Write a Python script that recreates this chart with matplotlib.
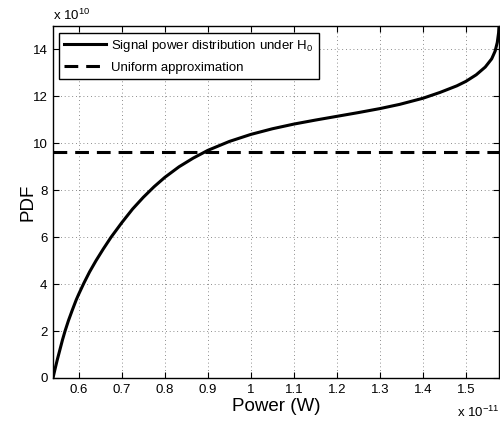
import numpy as np
import matplotlib
matplotlib.use("Agg")
import matplotlib.pyplot as plt
from matplotlib.ticker import FuncFormatter

plt.rcParams["font.family"] = ["Liberation Sans", "DejaVu Sans"]
plt.rcParams["mathtext.fontset"] = "custom"
plt.rcParams["mathtext.rm"] = "Liberation Sans"
plt.rcParams["mathtext.it"] = "Liberation Sans"

# power in units of 1e-11 W, pdf in units of 1e10
power = [0.540, 0.545, 0.550, 0.556, 0.562, 0.568, 0.576, 0.585, 0.594,
         0.600, 0.612, 0.625, 0.640, 0.657, 0.675, 0.700, 0.725, 0.750,
         0.775, 0.800, 0.833, 0.866, 0.900, 0.950, 1.000, 1.050, 1.100,
         1.150, 1.200, 1.250, 1.300, 1.346, 1.400, 1.440, 1.479, 1.500,
         1.524, 1.545, 1.560, 1.568, 1.573, 1.576, 1.577]
pdf = [0.0, 0.40, 0.78, 1.2, 1.62, 2.0, 2.45, 2.9, 3.33,
       3.58, 4.05, 4.52, 5.0, 5.5, 6.0, 6.62, 7.2, 7.7,
       8.15, 8.55, 9.0, 9.37, 9.7, 10.08, 10.38, 10.62, 10.82,
       10.99, 11.15, 11.31, 11.48, 11.66, 11.92, 12.17, 12.45, 12.64,
       12.92, 13.25, 13.6, 13.93, 14.3, 14.7, 15.0]
uniform_level = 9.63

xticks = [0.6, 0.7, 0.8, 0.9, 1.0, 1.1, 1.2, 1.3, 1.4, 1.5]
yticks = [0, 2, 4, 6, 8, 10, 12, 14]


def main():
    fig = plt.figure(figsize=(5.0, 4.22), dpi=100)
    ax = fig.add_axes([0.106, 0.1043, 0.892, 0.8341])

    ax.plot(power, pdf, color="k", lw=2.2, solid_joinstyle="round",
            label=r"Signal power distribution under H$_0$")
    ax.plot([power[0], power[-1]], [uniform_level, uniform_level],
            color="k", lw=2.2, dashes=(4.5, 2.6),
            label="Uniform approximation")

    ax.set_xlim(power[0], power[-1])
    ax.set_ylim(0, 15)
    ax.set_xticks(xticks)
    ax.set_yticks(yticks)
    ax.xaxis.set_major_formatter(FuncFormatter(lambda v, p: "%g" % v))
    ax.tick_params(direction="in", top=True, right=True, labelsize=9.5,
                   length=4, width=0.8, pad=4)
    ax.grid(True, color="k", linestyle=(0, (1, 3.5)), linewidth=0.6, alpha=0.6)
    for s in ax.spines.values():
        s.set_linewidth(1.0)

    ax.set_xlabel("Power (W)", fontsize=13.5, labelpad=2)
    ax.set_ylabel("PDF", fontsize=13.5, labelpad=-3)

    fig.text(53 / 500, 1 - 20 / 422, r"x 10$^{10}$", fontsize=9.5,
             ha="left", va="baseline")
    fig.text(457 / 500, 1 - 417 / 422, r"x 10$^{-11}$", fontsize=9.5,
             ha="left", va="baseline")

    leg = ax.legend(loc="upper left", bbox_to_anchor=(0.0134, 0.981),
                    borderaxespad=0, fontsize=9.5, fancybox=False,
                    edgecolor="k", framealpha=1, handlelength=3.2,
                    handletextpad=0.35, labelspacing=0.6, borderpad=0.4)
    leg.get_frame().set_linewidth(1.0)

    fig.savefig("out.png", dpi=100)


if __name__ == "__main__":
    main()
